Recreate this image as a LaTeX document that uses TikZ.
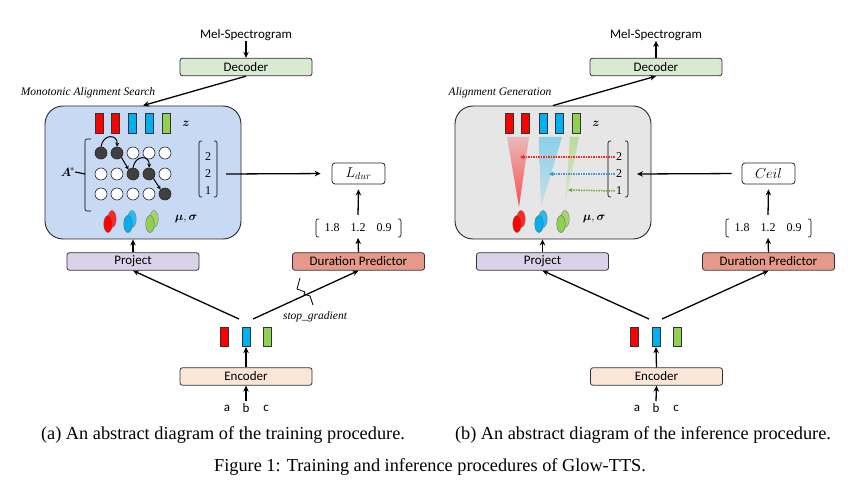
\documentclass[tikz,border=0pt]{standalone}
\usepackage{fontspec}
\usepackage{amsmath}
\usepackage{bm}
\setmainfont{Liberation Serif}
\newfontfamily\labfont{Carlito}
\usetikzlibrary{arrows.meta,calc,shapes.geometric}
\definecolor{masblue}{RGB}{199,217,243}
\definecolor{aggray}{RGB}{230,230,230}
\definecolor{decgreen}{RGB}{217,234,211}
\definecolor{projpurple}{RGB}{217,210,233}
\definecolor{dpred}{RGB}{230,153,138}
\definecolor{encpeach}{RGB}{251,229,214}
\definecolor{cred}{RGB}{255,0,0}
\definecolor{cblue}{RGB}{0,176,240}
\definecolor{cgreen}{RGB}{146,208,80}
\definecolor{dred}{RGB}{255,40,30}
\definecolor{dblue}{RGB}{70,150,220}
\definecolor{dgreen}{RGB}{110,170,60}
\tikzset{
  blk/.style={draw=black!80, rounded corners=2.5pt, line width=0.8pt, minimum width=132pt, minimum height=17.5pt, inner sep=0pt, font=\labfont\fontsize{13}{13}\selectfont},
  lbl/.style={font=\labfont\fontsize{13}{13}\selectfont, inner sep=0pt},
  itl/.style={font=\itshape\fontsize{11.5}{11.5}\selectfont, inner sep=0pt},
  arr/.style={-{Stealth[length=6pt,width=5.5pt]}, line width=1.3pt},
  sarr/.style={-{Stealth[length=4pt,width=4pt]}, line width=1pt},
  darr/.style={-{Stealth[length=4.5pt,width=4.5pt]}, line width=1.5pt, densely dotted},
  zbar/.style={draw=black!80, line width=0.6pt, minimum width=8pt, minimum height=19.5pt, inner sep=0pt},
  cdot/.style={circle, draw=black!85, line width=0.6pt, minimum size=12pt, inner sep=0pt, fill=white},
  cfill/.style={cdot, fill=black!75},
  bigbox/.style={draw=black!85, line width=0.9pt, rounded corners=18pt, minimum width=196pt, minimum height=133pt, inner sep=0pt},
  smbox/.style={draw=black!85, line width=0.8pt, rounded corners=3pt, minimum width=53pt, minimum height=21pt, inner sep=0pt, font=\fontsize{14}{14}\selectfont},
  num/.style={font=\fontsize{12}{12}\selectfont, inner sep=0pt},
  brk/.style={line width=0.6pt, rounded corners=2pt},
  ellback/.style={ellipse, draw=black!50, line width=0.4pt, minimum width=8.5pt, minimum height=17pt, inner sep=0pt},
  ellfront/.style={ellipse, draw=black!60, line width=0.4pt, minimum width=8.5pt, minimum height=17pt, inner sep=0pt},
  mathlbl/.style={font=\fontsize{13}{13}\selectfont, inner sep=0pt},
  captxt/.style={font=\fontsize{18.3}{18.3}\selectfont, inner sep=0pt}
}
\begin{document}
\begin{tikzpicture}[x=1pt,y=-1pt]
\useasboundingbox (0,0) rectangle (860,497);
% ================= LEFT PANEL =================
\node[lbl] (mel1) at (246,35) {Mel-Spectrogram};
\node[blk, fill=decgreen] (dec1) at (246,67) {Decoder};
\draw[arr] (mel1.south) -- (dec1.north);
\node[itl] (maslbl) at (88,93) {Monotonic Alignment Search};
\node[bigbox, fill=masblue] (mas) at (143,172.5) {};
\draw[arr] (dec1.south) -- (mas.north);
% z bars
\node[zbar, fill=cred] (lz1) at (99,123.5) {};
\node[zbar, fill=cred] (lz2) at (115,123.5) {};
\node[zbar, fill=cblue] (lz3) at (132,123.5) {};
\node[zbar, fill=cblue] (lz4) at (149,123.5) {};
\node[zbar, fill=cgreen] (lz5) at (166,123.5) {};
\node[mathlbl] (lzl) at (186,124) {$\bm{z}$};
% grid
\node[cfill] (c11) at (101,153) {};
\node[cfill] (c12) at (117,153) {};
\node[cdot] (c13) at (133,153) {};
\node[cdot] (c14) at (149,153) {};
\node[cdot] (c15) at (165,153) {};
\node[cdot] (c21) at (101,174) {};
\node[cdot] (c22) at (117,174) {};
\node[cfill] (c23) at (133,174) {};
\node[cfill] (c24) at (149,174) {};
\node[cdot] (c25) at (165,174) {};
\node[cdot] (c31) at (101,194) {};
\node[cdot] (c32) at (117,194) {};
\node[cdot] (c33) at (133,194) {};
\node[cdot] (c34) at (149,194) {};
\node[cfill] (c35) at (165,194) {};
\draw[sarr] (c11.north) .. controls +(2,-13) and +(1,-13) .. (c12.north);
\draw[sarr] (c12.south east) -- (c23.north west);
\draw[sarr] (c23.north) .. controls +(2,-13) and +(1,-13) .. (c24.north);
\draw[sarr] (c24.south east) -- (c35.north west);
% A* bracket
\draw[brk] (91,139) -- (85,139) -- (85,211) -- (91,211);
\coordinate (abrk) at (85,174);
\node[mathlbl] (astar) at (68,172) {$\bm{A}^{\!*}$};
\draw[line width=1.2pt] (astar.east) -- (abrk);
% column vector
\node[num] (lv1) at (208,157) {2};
\node[num] (lv2) at (208,174) {2};
\node[num] (lv3) at (208,191) {1};
\draw[brk] (202,141) -- (199,141) -- (199,197) -- (202,197);
\draw[brk] (214,141) -- (217,141) -- (217,197) -- (214,197);
\coordinate (lvr) at (226,174);
% mu sigma
\node[ellback, fill=cred!85!white] (lmb1) at (112,219) {};
\node[ellfront, fill=cred] (lmf1) at (108,224) {};
\node[ellback, fill=cblue!85!white] (lmb2) at (132,219) {};
\node[ellfront, fill=cblue] (lmf2) at (128,224) {};
\node[ellback, fill=cgreen!85!white] (lmb3) at (154,219) {};
\node[ellfront, fill=cgreen] (lmf3) at (150,224) {};
\node[mathlbl] (lmu) at (186,219) {$\bm{\mu},\bm{\sigma}$};
% L_dur
\node[smbox, fill=white] (ldur) at (358.5,173.5) {$L_{dur}$};
\draw[arr, shorten >=11pt] (lvr) -- (ldur.west);
% duration vector
\node[num] (ld1) at (332,228) {1.8};
\node[num] (ld2) at (358,228) {1.2};
\node[num] (ld3) at (384,228) {0.9};
\draw[brk] (319,219) -- (316,219) -- (316,237) -- (319,237);
\draw[brk] (398,219) -- (401,219) -- (401,237) -- (398,237);
\coordinate (ldtop) at (358,215);
\coordinate (ldbot) at (358,238);
\draw[arr] (ldtop) -- ($(ldur.south)+(0,5)$);
% project, DP
\node[blk, fill=projpurple] (proj1) at (133,261.5) {Project};
\node[blk, fill=dpred] (dp1) at (358.5,261.5) {Duration Predictor};
\draw[arr] (proj1.north) -- (proj1.north |- mas.south);
\draw[arr] (dp1.north) -- (ldbot);
% encoder
\node[zbar, fill=cred] (le1) at (224,337) {};
\node[zbar, fill=cblue] (le2) at (246,337) {};
\node[zbar, fill=cgreen] (le3) at (267,337) {};
\node[blk, fill=encpeach] (enc1) at (246,376.5) {Encoder};
\draw[arr] (enc1.north) -- (le2.south);
\node[lbl] (la) at (227,408) {a};
\node[lbl] (lb) at (246,408) {b};
\node[lbl] (lc) at (266,408) {c};
\draw[arr] ($(lb.north)+(0,-2)$) -- (enc1.south);
\coordinate (ls1) at (239,319);
\coordinate (ls2) at (253,319);
\draw[arr] (ls1) -- (proj1.south);
\draw[arr] (ls2) -- (dp1.south);
\draw[line width=0.8pt] (300,278) -- (297,289) -- (305,292) -- (304,294) -- (310,296) -- (313,305);
\node[itl] (sg) at (315,317) {stop\_gradient};
% ================= RIGHT PANEL =================
\node[lbl] (mel2) at (656,35) {Mel-Spectrogram};
\node[blk, fill=decgreen] (dec2) at (656,67) {Decoder};
\draw[arr] (dec2.north) -- (mel2.south);
\node[itl] (aglbl) at (500,93) {Alignment Generation};
\node[bigbox, fill=aggray] (ag) at (553,172.5) {};
\draw[arr] (ag.north) -- (dec2.south);
% cones
\shade[top color=cred!20!aggray, bottom color=cred!65!aggray] (507,137) -- (529,137) -- (519,207) -- cycle;
\shade[top color=cblue!40!aggray, bottom color=cblue!12!aggray] (539,137) -- (562,137) -- (541,207) -- cycle;
\shade[top color=cgreen!50!aggray, bottom color=cgreen!12!aggray] (570,137) -- (579,137) -- (565,204) -- cycle;
% z bars
\node[zbar, fill=cred] (rz1) at (509,123.5) {};
\node[zbar, fill=cred] (rz2) at (525,123.5) {};
\node[zbar, fill=cblue] (rz3) at (543,123.5) {};
\node[zbar, fill=cblue] (rz4) at (559,123.5) {};
\node[zbar, fill=cgreen] (rz5) at (576,123.5) {};
\node[mathlbl] (rzl) at (596,124) {$\bm{z}$};
% column vector
\node[num] (rv1) at (619,157) {2};
\node[num] (rv2) at (619,174) {2};
\node[num] (rv3) at (619,191) {1};
\draw[brk] (611,141) -- (608,141) -- (608,197) -- (611,197);
\draw[brk] (625,141) -- (628,141) -- (628,197) -- (625,197);
\coordinate (rvr) at (637,174);
\coordinate (rt1) at (520,157);
\coordinate (rt2) at (549,174);
\coordinate (rt3) at (568,190);
\draw[darr, dred] (rv1.west) ++(-1,0) -- (rt1);
\draw[darr, dblue] (rv2.west) ++(-1,0) -- (rt2);
\draw[darr, dgreen] (rv3.west) ++(-1,0) -- (rt3);
% mu sigma
\node[ellback, fill=cred!85!white] (rmb1) at (521,219) {};
\node[ellfront, fill=cred] (rmf1) at (517,224) {};
\node[ellback, fill=cblue!85!white] (rmb2) at (543,219) {};
\node[ellfront, fill=cblue] (rmf2) at (539,224) {};
\node[ellback, fill=cgreen!85!white] (rmb3) at (565,219) {};
\node[ellfront, fill=cgreen] (rmf3) at (561,224) {};
\node[mathlbl] (rmu) at (594,219) {$\bm{\mu},\bm{\sigma}$};
% Ceil
\node[smbox, fill=white] (ceil) at (768.5,173.5) {$Ceil$};
\draw[arr, shorten <=10pt] (ceil.west) -- (rvr);
\node[num] (rd1) at (742,228) {1.8};
\node[num] (rd2) at (768,228) {1.2};
\node[num] (rd3) at (794,228) {0.9};
\draw[brk] (729,219) -- (726,219) -- (726,237) -- (729,237);
\draw[brk] (808,219) -- (811,219) -- (811,237) -- (808,237);
\coordinate (rdtop) at (768,215);
\coordinate (rdbot) at (768,238);
\draw[arr] (rdtop) -- ($(ceil.south)+(0,5)$);
\node[blk, fill=projpurple] (proj2) at (542.5,261.5) {Project};
\node[blk, fill=dpred] (dp2) at (768.5,261.5) {Duration Predictor};
\draw[arr] (proj2.north) -- (proj2.north |- ag.south);
\draw[arr] (dp2.north) -- (rdbot);
\node[zbar, fill=cred] (re1) at (634,337) {};
\node[zbar, fill=cblue] (re2) at (656,337) {};
\node[zbar, fill=cgreen] (re3) at (677,337) {};
\node[blk, fill=encpeach] (enc2) at (656.5,376.5) {Encoder};
\draw[arr] (enc2.north) -- (re2.south);
\node[lbl] (ra) at (637,408) {a};
\node[lbl] (rb) at (656,408) {b};
\node[lbl] (rc) at (676,408) {c};
\draw[arr] ($(rb.north)+(0,-2)$) -- (enc2.south);
\coordinate (rs1) at (649,319);
\coordinate (rs2) at (662,319);
\draw[arr] (rs1) -- (proj2.south);
\draw[arr] (rs2) -- (dp2.south);
% captions
\node[captxt] (capa) at (223,435) {(a) An abstract diagram of the training procedure.};
\node[captxt] (capb) at (643,435) {(b) An abstract diagram of the inference procedure.};
\node[captxt] (fig) at (430,467) {Figure 1: Training and inference procedures of Glow-TTS.};
\end{tikzpicture}
\end{document}
